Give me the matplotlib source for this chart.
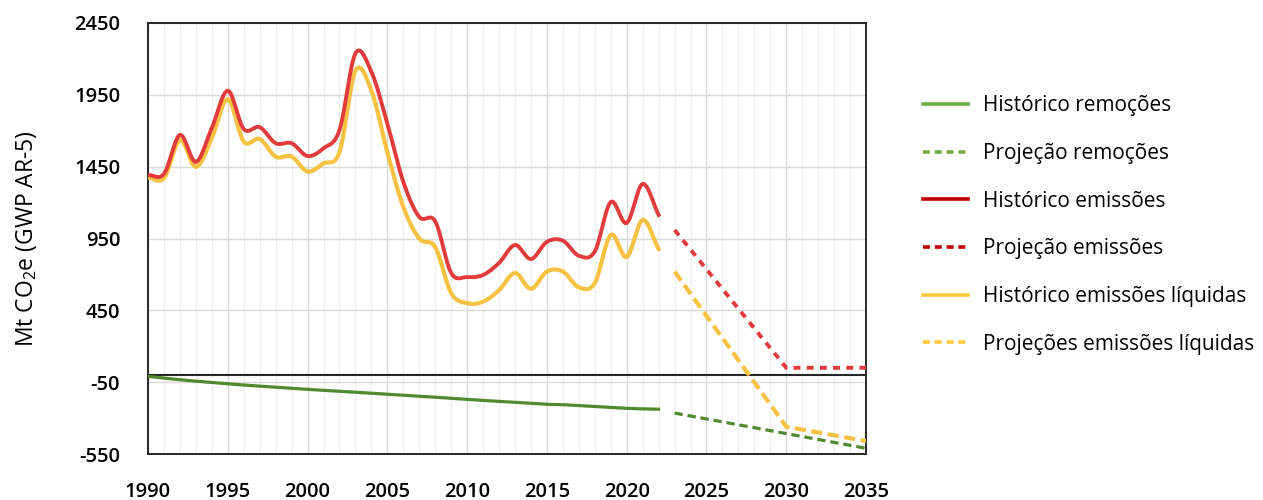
import matplotlib.pyplot as plt
import matplotlib.ticker as mticker
from matplotlib.lines import Line2D
import numpy as np

plt.rcParams['font.family'] = ['Open Sans', 'DejaVu Sans']
plt.rcParams['mathtext.fontset'] = 'custom'
plt.rcParams['mathtext.rm'] = 'Open Sans'
plt.rcParams['axes.unicode_minus'] = False
plt.rcParams['lines.scale_dashes'] = False

# historical series (Mt CO2e)
years_hist = list(range(1990, 2023))
emissions_hist = [1392, 1400, 1671, 1483, 1720, 1979, 1712, 1725, 1613, 1613,
                  1524, 1578, 1705, 2239, 2110, 1750, 1344, 1100, 1070, 710,
                  682, 696, 780, 905, 807, 927, 935, 830, 860, 1204,
                  1058, 1330, 1114]
net_hist = [1375, 1370, 1636, 1448, 1650, 1920, 1624, 1643, 1520, 1520,
            1416, 1473, 1552, 2118, 1980, 1550, 1170, 950, 890, 570,
            500, 510, 590, 710, 600, 720, 720, 610, 640, 975,
            822, 1079, 877]
removals_hist = [-10, -22, -33, -43, -52, -62, -70, -78, -86, -93,
                 -100, -107, -114, -120, -127, -134, -141, -148, -155, -162,
                 -170, -177, -184, -191, -197, -204, -207, -213, -220, -226,
                 -232, -236, -238]

# projections
years_proj = [2023, 2030, 2035]
emissions_proj = [1010, 50, 50]
net_proj = [720, -360, -460]
years_rem_proj = [2023, 2035]
removals_proj = [-265, -510]

legend_labels = ['Histórico remoções', 'Projeção remoções', 'Histórico emissões',
                 'Projeção emissões', 'Histórico emissões líquidas',
                 'Projeções emissões líquidas']


def smooth(x, y, n=12):
    # Catmull-Rom style smoothing, like a spreadsheet "smoothed line"
    x = np.asarray(x, float)
    y = np.asarray(y, float)
    px = np.concatenate([[2 * x[0] - x[1]], x, [2 * x[-1] - x[-2]]])
    py = np.concatenate([[2 * y[0] - y[1]], y, [2 * y[-1] - y[-2]]])
    xs, ys = [], []
    t = np.linspace(0, 1, n, endpoint=False)
    for i in range(1, len(px) - 2):
        p0, p1, p2, p3 = py[i - 1], py[i], py[i + 1], py[i + 2]
        q0, q1, q2, q3 = px[i - 1], px[i], px[i + 1], px[i + 2]
        ys.append(0.5 * (2 * p1 + (-p0 + p2) * t + (2 * p0 - 5 * p1 + 4 * p2 - p3) * t ** 2
                         + (-p0 + 3 * p1 - 3 * p2 + p3) * t ** 3))
        xs.append(0.5 * (2 * q1 + (-q0 + q2) * t + (2 * q0 - 5 * q1 + 4 * q2 - q3) * t ** 2
                         + (-q0 + 3 * q1 - 3 * q2 + q3) * t ** 3))
    xs.append([x[-1]])
    ys.append([y[-1]])
    return np.concatenate(xs), np.concatenate(ys)


red = '#E23B3B'
yellow = '#F7C242'
green = '#4F8A2F'

fig = plt.figure(figsize=(12.63, 5), dpi=100)
ax = fig.add_axes([0.1172, 0.092, 0.5685, 0.862])

ax.axhline(0, color='#262626', lw=1.5, zorder=2)

ax.plot(*smooth(years_hist, emissions_hist), color=red, lw=2.8, zorder=4)
ax.plot(*smooth(years_hist, net_hist), color=yellow, lw=3.0, zorder=3)
ax.plot(*smooth(years_hist, removals_hist), color=green, lw=2.3, zorder=3)

ax.plot(years_proj, emissions_proj, color=red, lw=2.8, ls=(0, (5, 4.5)), zorder=4)
ax.plot(years_proj, net_proj, color=yellow, lw=3.0, ls=(0, (8, 4)), zorder=3)
ax.plot(years_rem_proj, removals_proj, color=green, lw=2.3, ls=(0, (6, 3.5)), zorder=3)

ax.set_xlim(1990, 2035)
ax.set_ylim(-550, 2450)
ax.xaxis.set_major_locator(mticker.MultipleLocator(5))
ax.xaxis.set_minor_locator(mticker.MultipleLocator(1))
ax.set_yticks(np.arange(-550, 2451, 500))
ax.grid(which='major', axis='both', color='#d9d9d9', lw=1.0, zorder=0)
ax.grid(which='minor', axis='x', color='#efefef', lw=0.9, zorder=0)
ax.set_axisbelow(True)
ax.tick_params(which='both', length=0)
ax.tick_params(axis='x', pad=20, labelsize=14.5)
ax.tick_params(axis='y', pad=20, labelsize=14.5)
for lab in ax.get_xticklabels() + ax.get_yticklabels():
    lab.set_fontweight('semibold')
for s in ax.spines.values():
    s.set_color('#262626')
    s.set_linewidth(1.4)

ax.set_ylabel('Mt CO$_2$e (GWP AR-5)', fontsize=16.5, labelpad=25)

handles = [
    Line2D([], [], color='#70AD47', lw=2.6),
    Line2D([], [], color='#70AD47', lw=2.6, ls=(0, (5, 3.5))),
    Line2D([], [], color='#C00000', lw=2.6),
    Line2D([], [], color='#C00000', lw=2.6, ls=(0, (5, 3.5))),
    Line2D([], [], color='#FFC83D', lw=2.6),
    Line2D([], [], color='#FFC83D', lw=2.6, ls=(0, (5, 3.5))),
]
fig.legend(handles, legend_labels, loc='upper left', bbox_to_anchor=(0.7245, 0.826),
           frameon=False, fontsize=15, handlelength=2.15, handletextpad=0.72,
           labelspacing=1.28, borderaxespad=0)

fig.savefig('out.png', dpi=100)
